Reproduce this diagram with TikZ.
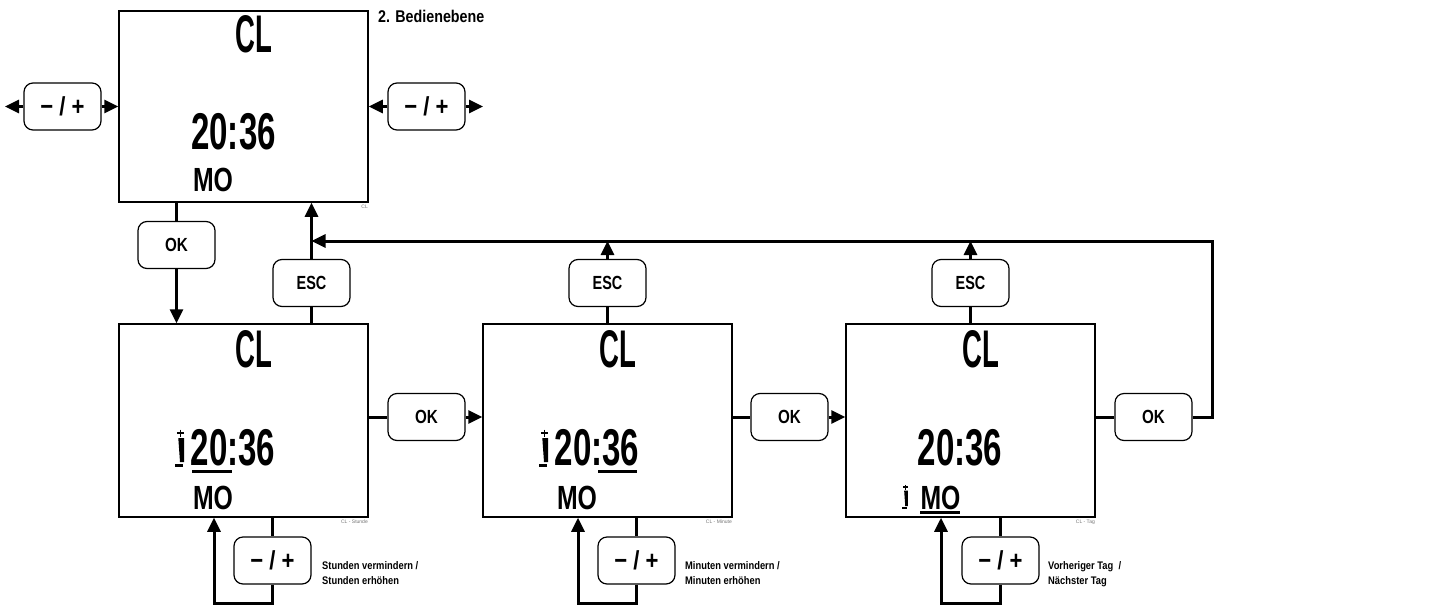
\documentclass[tikz,border=0pt]{standalone}
\usepackage{fontspec}
\setmainfont{Liberation Sans}
\usetikzlibrary{arrows.meta,calc}
\newcommand\btnfont{\fontsize{19}{19}\selectfont\bfseries}
\newcommand\pmfont{\fontsize{26}{26}\selectfont\bfseries}
\tikzset{
 box/.style={draw, line width=1.5pt, minimum width=249pt, minimum height=193pt, inner sep=0pt},
 btn/.style={draw, line width=1.2pt, rounded corners=9pt, minimum width=77pt, minimum height=47pt, inner sep=0pt, font=\btnfont},
 conn/.style={line width=3pt},
 arr/.style={line width=3pt, -{Triangle[length=14pt,width=13pt]}},
 lcdA/.style={inner sep=0pt, font=\fontsize{53}{53}\selectfont\bfseries},
 lcdB/.style={inner sep=0pt, font=\fontsize{51.7}{52}\selectfont\bfseries},
 lcdC/.style={inner sep=0pt, font=\fontsize{33.5}{34}\selectfont\bfseries},
 tinycap/.style={inner sep=0pt, font=\fontsize{5}{5}\selectfont, text=black!55},
 lbl/.style={inner sep=0pt, anchor=west, align=left, font=\fontsize{11}{15}\selectfont\bfseries},
 uline/.style={line width=3pt},
 ind/.pic={
   \draw[line width=1.6pt] (2,5) -- (9,5) (5.5,1.5) -- (5.5,8.5);
   \fill (3.3,10) -- (9,10) -- (9,34) -- (5,34) -- cycle;
   \fill (0,35.5) rectangle (8,38.5);
 }
}
\newcommand\pmtext{\pmfont\scalebox{0.85}[1]{− / +}}
\begin{document}
\begin{tikzpicture}[x=1pt,y=-1pt]
\useasboundingbox (0,0) rectangle (1445,608);

% display boxes
\node[box, minimum height=191pt] (top) at (243.5,106.5) {};
\node[box] (b1) at (243.5,420.5) {};
\node[box] (b2) at (607.5,420.5) {};
\node[box] (b3) at (970.5,420.5) {};

% title
\node[inner sep=0pt, anchor=west, font=\fontsize{17}{17}\selectfont\bfseries] (title) at (378,16) {\scalebox{0.84}[1]{2. Bedienebene}};

% display contents: top
\node[lcdA] (tcl) at (253.5,34) {\scalebox{0.52}[1]{CL}};
\node[lcdB] (ttime) at (233.5,131.5) {\scalebox{0.64}[1]{20:36}};
\node[lcdC] (tday) at (213,180) {\scalebox{0.74}[1]{MO}};
\node[tinycap, anchor=north east] (tcap) at (368,205) {CL};

% box 1
\node[lcdA] (cl1) at (254,349) {\scalebox{0.52}[1]{CL}};
\node[lcdB] (time1) at (233,447.5) {\scalebox{0.64}[1]{20:36}};
\node[lcdC] (day1) at (213,497.5) {\scalebox{0.74}[1]{MO}};
\draw[uline] (192,471.5) -- (232,471.5);
\pic at (175,428) {ind};
\node[tinycap, anchor=north east] (cap1) at (368,520) {CL - Stunde};

% box 2
\node[lcdA] (cl2) at (618,349) {\scalebox{0.52}[1]{CL}};
\node[lcdB] (time2) at (597,447.5) {\scalebox{0.64}[1]{20:36}};
\node[lcdC] (day2) at (577,497.5) {\scalebox{0.74}[1]{MO}};
\draw[uline] (598,471.5) -- (637,471.5);
\pic at (539,428) {ind};
\node[tinycap, anchor=north east] (cap2) at (732,520) {CL - Minute};

% box 3
\node[lcdA] (cl3) at (981,349) {\scalebox{0.52}[1]{CL}};
\node[lcdB] (time3) at (960,447.5) {\scalebox{0.64}[1]{20:36}};
\node[lcdC] (day3) at (940.5,497.5) {\scalebox{0.74}[1]{MO}};
\draw[uline] (920,512.5) -- (960,512.5);
\pic[scale=0.65] at (902,484) {ind};
\node[tinycap, anchor=north east] (cap3) at (1095,520) {CL - Tag};

% buttons
\node[btn] (pmL) at (62.5,106.5) {\pmtext};
\node[btn] (pmR) at (426.5,106.5) {\pmtext};
\node[btn] (ok0) at (176.5,245) {\scalebox{0.8}[1]{OK}};
\node[btn] (esc1) at (311.5,283) {\scalebox{0.76}[1]{ESC}};
\node[btn] (esc2) at (607.5,283) {\scalebox{0.76}[1]{ESC}};
\node[btn] (esc3) at (970.5,283) {\scalebox{0.76}[1]{ESC}};
\node[btn] (ok1) at (426.5,417) {\scalebox{0.8}[1]{OK}};
\node[btn] (ok2) at (789.5,417) {\scalebox{0.8}[1]{OK}};
\node[btn] (ok3) at (1153.5,417) {\scalebox{0.8}[1]{OK}};
\node[btn] (pm1) at (272.5,560.5) {\pmtext};
\node[btn] (pm2) at (636.5,560.5) {\pmtext};
\node[btn] (pm3) at (1000.5,560.5) {\pmtext};

% labels
\node[lbl] (l1) at (322,573.5) {\scalebox{0.85}[1]{\begin{tabular}{@{}l@{}}Stunden vermindern /\\Stunden erhöhen\end{tabular}}};
\node[lbl] (l2) at (685,573.5) {\scalebox{0.85}[1]{\begin{tabular}{@{}l@{}}Minuten vermindern /\\Minuten erhöhen\end{tabular}}};
\node[lbl] (l3) at (1048,573.5) {\scalebox{0.85}[1]{\begin{tabular}{@{}l@{}}Vorheriger Tag~~/\\Nächster Tag\end{tabular}}};

% coordinates
\coordinate (tipL) at (5,106.5);
\coordinate (tipR) at (483,106.5);
\coordinate (ret) at (1212,241);
\coordinate (lp1) at (214,603);
\coordinate (lp2) at (578,603);
\coordinate (lp3) at (941,603);

% connectors top row
\draw[arr] (pmL.west) -- (tipL);
\draw[arr] (pmL.east) -- (top.west);
\draw[arr] (pmR.west) -- (top.east);
\draw[arr] (pmR.east) -- (tipR);

\draw[conn] (top.south -| ok0) -- (ok0.north);
\draw[arr] (ok0.south) -- (b1.north -| ok0);
\draw[conn] (b1.north -| esc1) -- (esc1.south);
\draw[arr] (esc1.north) -- (top.south -| esc1);

\draw[conn] (b2.north -| esc2) -- (esc2.south);
\draw[arr] (esc2.north) -- (esc2.north |- ret);
\draw[conn] (b3.north -| esc3) -- (esc3.south);
\draw[arr] (esc3.north) -- (esc3.north |- ret);

% OK row
\draw[conn] (ok1.west -| b1.east) -- (ok1.west);
\draw[arr] (ok1.east) -- (ok1.east -| b2.west);
\draw[conn] (ok2.west -| b2.east) -- (ok2.west);
\draw[arr] (ok2.east) -- (ok2.east -| b3.west);
\draw[conn] (ok3.west -| b3.east) -- (ok3.west);
\draw[arr] (ok3.east) -- (ok3.east -| ret) -- (ret) -- (ret -| esc1.north);

% loops
\draw[conn] (b1.south -| pm1) -- (pm1.north);
\draw[arr] (pm1.south) -- (pm1.south |- lp1) -- (lp1) -- (lp1 |- b1.south);
\draw[conn] (b2.south -| pm2) -- (pm2.north);
\draw[arr] (pm2.south) -- (pm2.south |- lp2) -- (lp2) -- (lp2 |- b2.south);
\draw[conn] (b3.south -| pm3) -- (pm3.north);
\draw[arr] (pm3.south) -- (pm3.south |- lp3) -- (lp3) -- (lp3 |- b3.south);
\end{tikzpicture}
\end{document}
